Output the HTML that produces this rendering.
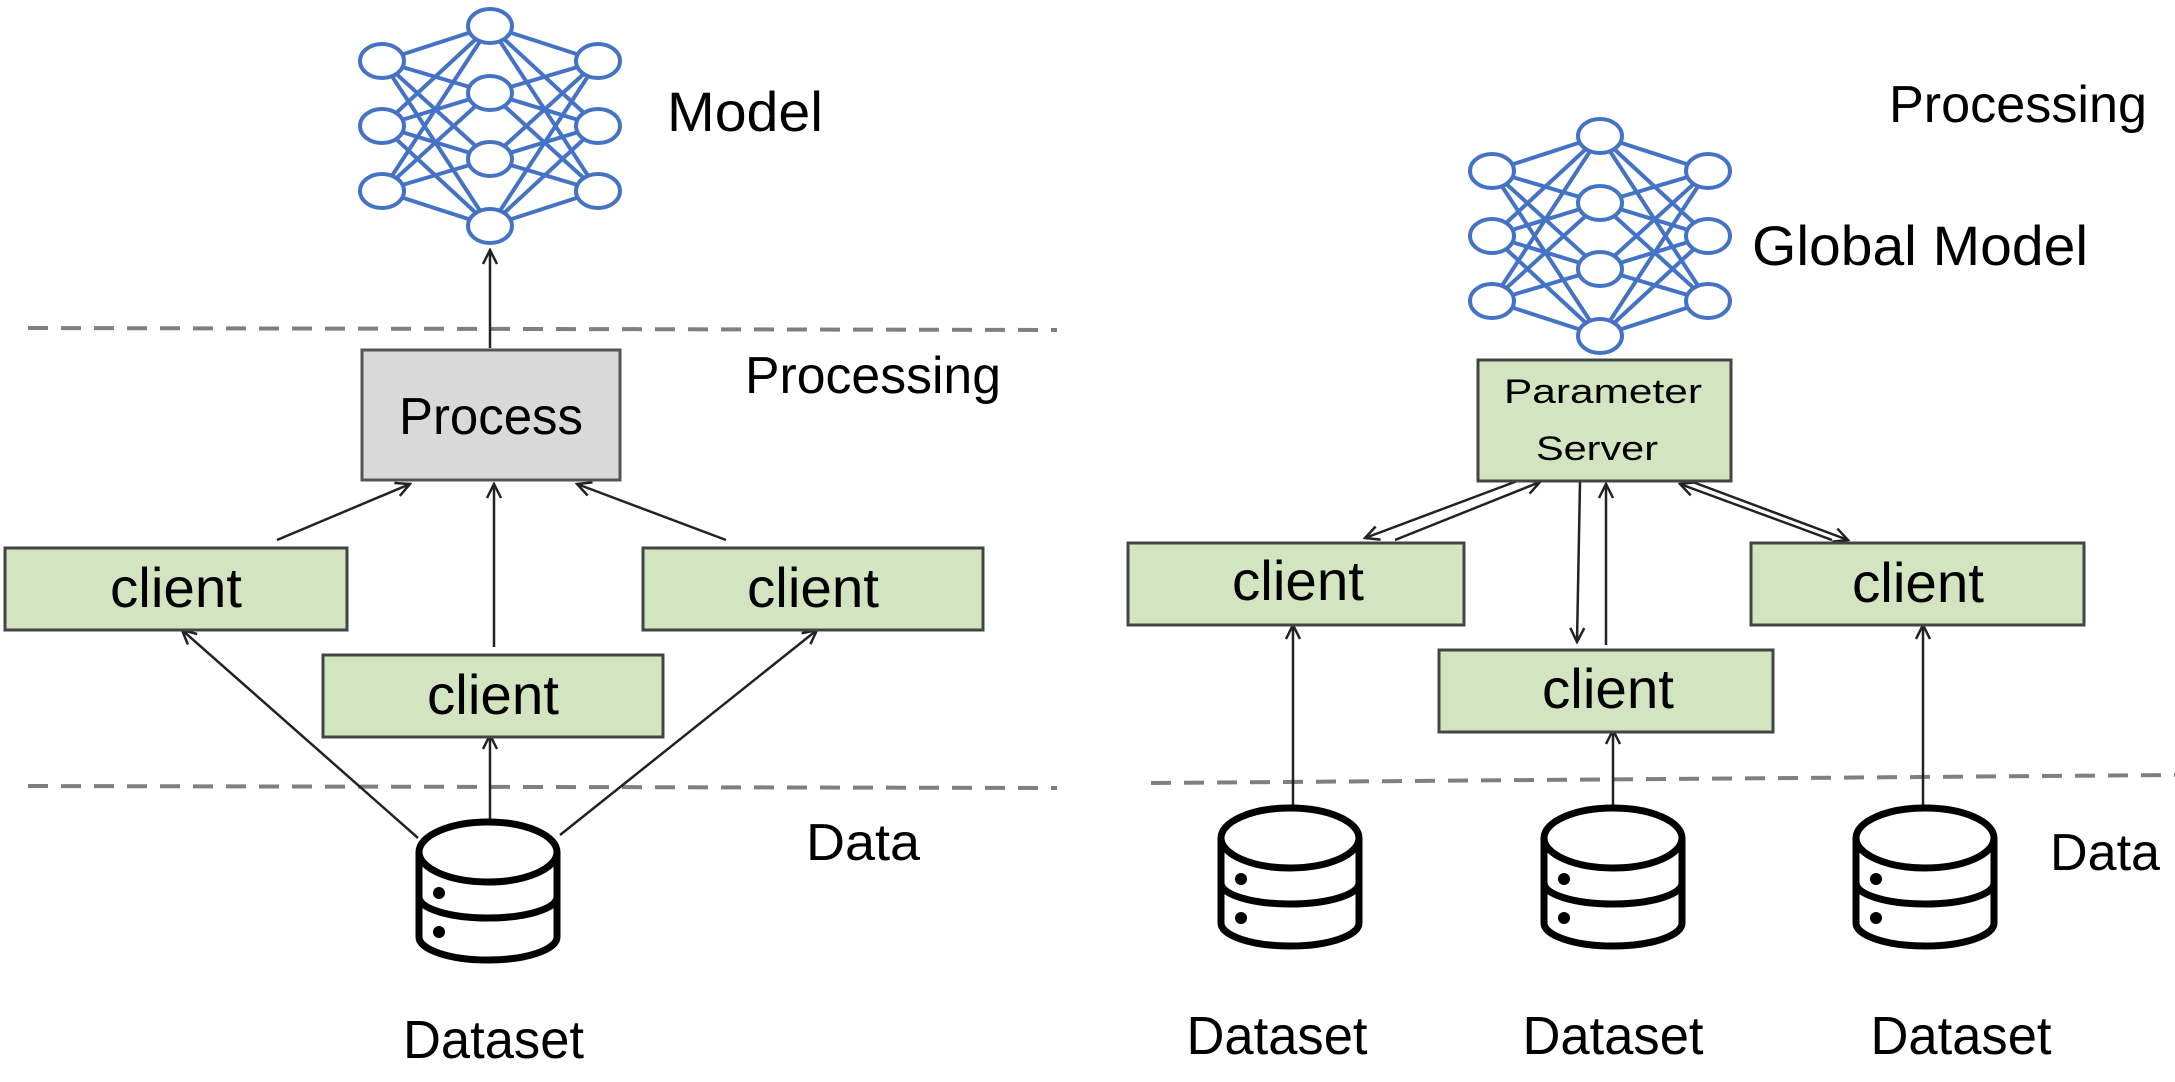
<!DOCTYPE html>
<html><head><meta charset="utf-8"><style>html,body{margin:0;padding:0;background:#fff}svg{display:block}</style></head>
<body>
<svg width="2175" height="1082" viewBox="0 0 2175 1082" xmlns="http://www.w3.org/2000/svg" font-family="'Liberation Sans', sans-serif">
<defs>
<marker id="ah" viewBox="0 0 20 20" refX="18" refY="10" markerWidth="20" markerHeight="20" markerUnits="userSpaceOnUse" orient="auto">
<polyline points="4,3 18,10 4,17" fill="none" stroke="#222" stroke-width="2.5"/>
</marker>
<g id="nn" stroke="#4472c4" stroke-width="4" fill="#fff">
<g fill="none">
<path d="M-108,-65L0,-100M-108,-65L0,-33M-108,-65L0,33M-108,-65L0,100M-108,0L0,-100M-108,0L0,-33M-108,0L0,33M-108,0L0,100M-108,65L0,-100M-108,65L0,-33M-108,65L0,33M-108,65L0,100"/>
<path d="M108,-65L0,-100M108,-65L0,-33M108,-65L0,33M108,-65L0,100M108,0L0,-100M108,0L0,-33M108,0L0,33M108,0L0,100M108,65L0,-100M108,65L0,-33M108,65L0,33M108,65L0,100"/>
</g>
<ellipse cx="0" cy="-100" rx="22" ry="17"/><ellipse cx="0" cy="-33" rx="22" ry="17"/><ellipse cx="0" cy="33" rx="22" ry="17"/><ellipse cx="0" cy="100" rx="22" ry="17"/>
<ellipse cx="-108" cy="-65" rx="22" ry="17"/><ellipse cx="-108" cy="0" rx="22" ry="17"/><ellipse cx="-108" cy="65" rx="22" ry="17"/>
<ellipse cx="108" cy="-65" rx="22" ry="17"/><ellipse cx="108" cy="0" rx="22" ry="17"/><ellipse cx="108" cy="65" rx="22" ry="17"/>
</g>
<g id="db" stroke="#000" stroke-width="7" fill="#fff" stroke-linejoin="round">
<path d="M-69,0 L-69,85 A69,23 0 0 0 69,85 L69,0"/>
<ellipse cx="0" cy="0" rx="69" ry="30"/>
<path d="M-69,45 A69,21 0 0 0 69,45" fill="none"/>
<circle cx="-49" cy="41" r="6" fill="#000" stroke="none"/>
<circle cx="-49" cy="80" r="6" fill="#000" stroke="none"/>
</g>
</defs>

<g stroke="#7f7f7f" stroke-width="4" stroke-dasharray="20,13">
<line x1="28" y1="328" x2="1057" y2="330"/>
<line x1="28" y1="786" x2="1057" y2="788"/>
<line x1="1151" y1="783" x2="2175" y2="775"/>
</g>

<use href="#nn" x="490" y="126"/>
<text x="667" y="131" font-size="56" textLength="156" lengthAdjust="spacingAndGlyphs">Model</text>
<text x="745" y="393" font-size="52" textLength="256" lengthAdjust="spacingAndGlyphs">Processing</text>
<text x="806" y="860" font-size="52" textLength="114" lengthAdjust="spacingAndGlyphs">Data</text>
<text x="403" y="1058" font-size="54" textLength="181" lengthAdjust="spacingAndGlyphs">Dataset</text>

<g stroke="#222" stroke-width="2.5" fill="none" marker-end="url(#ah)">
<line x1="490" y1="348" x2="490" y2="250"/>
<line x1="277" y1="540" x2="410" y2="484"/>
<line x1="726" y1="540" x2="577" y2="484"/>
<line x1="494" y1="647" x2="494" y2="484"/>
<line x1="418" y1="838" x2="182" y2="630"/>
<line x1="560" y1="835" x2="817" y2="630"/>
<line x1="490" y1="822" x2="490" y2="735"/>
</g>

<rect x="362" y="350" width="258" height="130" fill="#d9d9d9" stroke="#555" stroke-width="3"/>
<text x="491" y="434" font-size="52" text-anchor="middle" textLength="184" lengthAdjust="spacingAndGlyphs">Process</text>

<g fill="#d3e5c0" stroke="#444" stroke-width="3">
<rect x="5" y="548" width="342" height="82"/>
<rect x="643" y="548" width="340" height="82"/>
<rect x="323" y="655" width="340" height="82"/>
</g>
<g font-size="56" text-anchor="middle">
<text x="176" y="607" textLength="132" lengthAdjust="spacingAndGlyphs">client</text>
<text x="813" y="607" textLength="132" lengthAdjust="spacingAndGlyphs">client</text>
<text x="493" y="714" textLength="132" lengthAdjust="spacingAndGlyphs">client</text>
</g>

<use href="#db" x="488" y="852"/>

<text x="1889" y="122" font-size="52" textLength="258" lengthAdjust="spacingAndGlyphs">Processing</text>
<use href="#nn" x="1600" y="236"/>
<text x="1752" y="265" font-size="56" textLength="336" lengthAdjust="spacingAndGlyphs">Global Model</text>

<g stroke="#222" stroke-width="2.5" fill="none" marker-end="url(#ah)">
<line x1="1520" y1="480" x2="1365" y2="538"/>
<line x1="1395" y1="540" x2="1540" y2="482"/>
<line x1="1580" y1="482" x2="1577" y2="642"/>
<line x1="1606" y1="645" x2="1606" y2="484"/>
<line x1="1682" y1="478" x2="1848" y2="540"/>
<line x1="1832" y1="540" x2="1680" y2="484"/>
<line x1="1293" y1="805" x2="1293" y2="625"/>
<line x1="1613" y1="808" x2="1613" y2="730"/>
<line x1="1923" y1="808" x2="1923" y2="625"/>
</g>

<rect x="1478" y="360" width="253" height="121" fill="#d3e5c0" stroke="#444" stroke-width="3"/>
<text x="1603" y="403" font-size="34" text-anchor="middle" textLength="198" lengthAdjust="spacingAndGlyphs">Parameter</text>
<text x="1597" y="460" font-size="34" text-anchor="middle" textLength="122" lengthAdjust="spacingAndGlyphs">Server</text>

<g fill="#d3e5c0" stroke="#444" stroke-width="3">
<rect x="1128" y="543" width="336" height="82"/>
<rect x="1751" y="543" width="333" height="82"/>
<rect x="1439" y="650" width="334" height="82"/>
</g>
<g font-size="56" text-anchor="middle">
<text x="1298" y="600" textLength="132" lengthAdjust="spacingAndGlyphs">client</text>
<text x="1918" y="602" textLength="132" lengthAdjust="spacingAndGlyphs">client</text>
<text x="1608" y="708" textLength="132" lengthAdjust="spacingAndGlyphs">client</text>
</g>

<use href="#db" x="1290" y="838"/>
<use href="#db" x="1613" y="838"/>
<use href="#db" x="1925" y="838"/>

<text x="2050" y="870" font-size="52" textLength="110" lengthAdjust="spacingAndGlyphs">Data</text>
<g font-size="54" text-anchor="middle">
<text x="1277" y="1054" textLength="181" lengthAdjust="spacingAndGlyphs">Dataset</text>
<text x="1613" y="1054" textLength="181" lengthAdjust="spacingAndGlyphs">Dataset</text>
<text x="1961" y="1054" textLength="181" lengthAdjust="spacingAndGlyphs">Dataset</text>
</g>
</svg>
</body></html>
